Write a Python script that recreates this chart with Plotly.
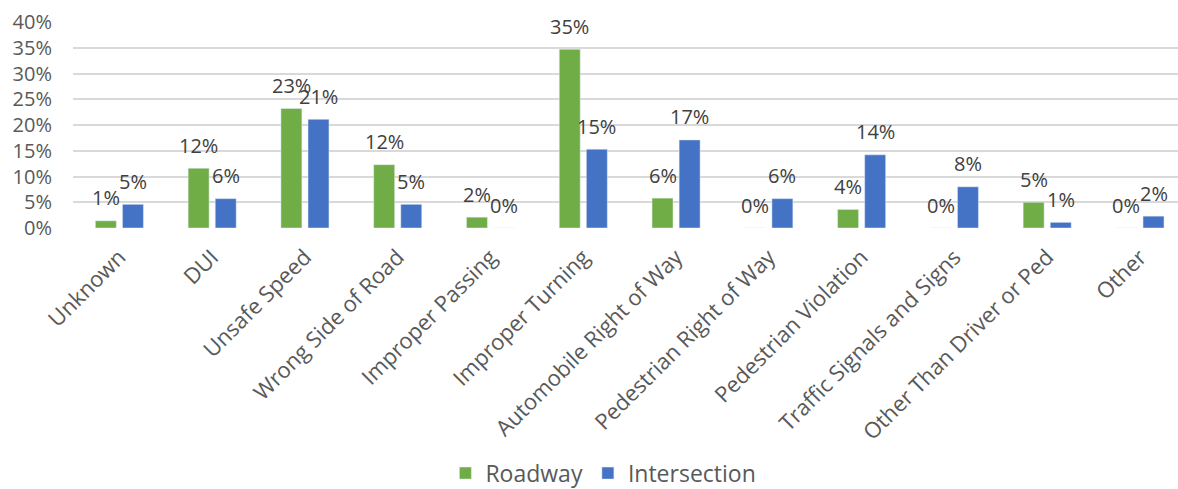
import plotly.graph_objects as go

categories = ["Unknown", "DUI", "Unsafe Speed", "Wrong Side of Road", "Improper Passing",
              "Improper Turning", "Automobile Right of Way", "Pedestrian Right of Way",
              "Pedestrian Violation", "Traffic Signals and Signs", "Other Than Driver or Ped", "Other"]
roadway = [0.014, 0.116, 0.232, 0.123, 0.021, 0.347, 0.058, 0.0, 0.036, 0.0, 0.050, 0.0]
intersection = [0.046, 0.057, 0.211, 0.046, 0.0, 0.153, 0.171, 0.057, 0.142, 0.080, 0.011, 0.023]
y_ticks = [0, 0.05, 0.10, 0.15, 0.20, 0.25, 0.30, 0.35, 0.40]
y_tick_labels = ["0%", "5%", "10%", "15%", "20%", "25%", "30%", "35%", "40%"]

GREEN = "#70AD47"
BLUE = "#4472C4"
BARGAP = 0.416
GROUPGAP = 0.226
slot = (1 - BARGAP) / 2

fig = go.Figure()
fig.add_trace(go.Bar(name="Roadway", x=categories, y=roadway, marker_color=GREEN))
fig.add_trace(go.Bar(name="Intersection", x=categories, y=intersection, marker_color=BLUE))

annotations = []
for series, sign in ((roadway, -1), (intersection, 1)):
    for i, v in enumerate(series):
        annotations.append(dict(
            x=i + sign * slot / 2, y=v, xref="x", yref="y",
            text=f"{round(v * 100):.0f}%", showarrow=False,
            yanchor="middle", yshift=23,
            font=dict(family="Open Sans", size=20, color="#404040")))

fig.update_layout(
    width=1178, height=489,
    margin=dict(l=73, r=0, t=22, b=261, autoexpand=False),
    paper_bgcolor="white", plot_bgcolor="white",
    barmode="group", bargap=BARGAP, bargroupgap=GROUPGAP,
    annotations=annotations,
    font=dict(family="Open Sans", color="#595959"),
    showlegend=True,
    legend=dict(orientation="h", x=0.48, xanchor="center", y=-1.19, yanchor="middle",
                font=dict(size=23, color="#595959"), traceorder="normal"),
    xaxis=dict(type="category", range=[-0.5, 11.41], tickangle=-45, automargin=False,
               tickfont=dict(size=22, color="#595959"), showgrid=False,
               showline=False, ticks="", ticklabelstandoff=11),
    yaxis=dict(range=[0, 0.4], tickvals=y_ticks, ticktext=y_tick_labels, automargin=False,
               tickfont=dict(size=20, color="#595959"), showgrid=True,
               gridcolor="#D9D9D9", gridwidth=1.5, zeroline=False,
               showline=False, ticks="", ticklabelstandoff=20),
)

fig.write_html("out.html")
